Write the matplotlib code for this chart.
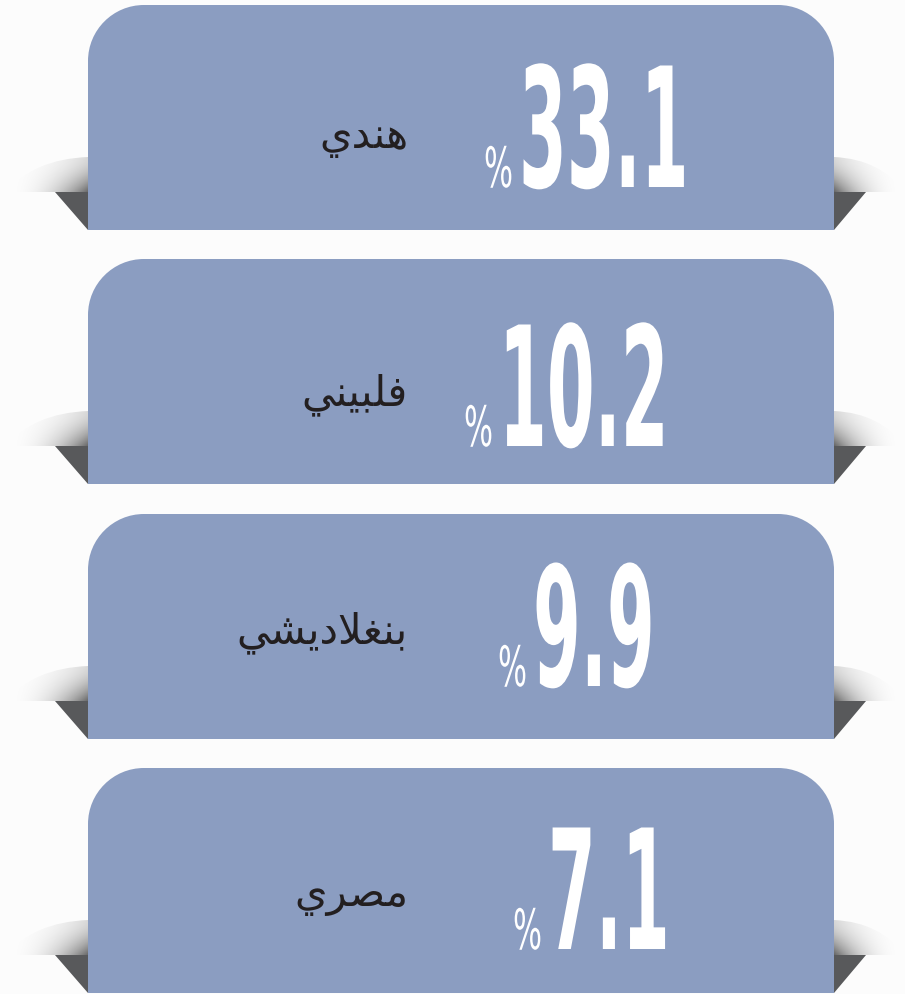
import numpy as np
import matplotlib
matplotlib.use("Agg")
import matplotlib.pyplot as plt
from matplotlib.path import Path
from matplotlib.patches import PathPatch, Polygon
from matplotlib.patheffects import AbstractPathEffect
from matplotlib.transforms import Affine2D

# -------------------------------------------------------------------------- #
# DONNEES
# -------------------------------------------------------------------------- #
nationalites = ["هندي", "فلبيني", "بنغلاديشي", "مصري"]
pourcentages = [33.1, 10.2, 9.9, 7.1]

# mise en page (pixels)
haut_cartes = [6, 260, 515, 769]
base_chiffres = [188, 447, 687, 950]
gauche_chiffres = [519, 499, 533, 548]
base_textes = [148, 405, 643, 906]

BLEU = "#8b9dc1"
GRIS = "#58595b"
FOND = "#fcfcfc"
TEXTE = "#231f20"


# -------------------------------------------------------------------------- #
# MISE EN FORME DU TEXTE ARABE (formes de presentation + ordre visuel)
# -------------------------------------------------------------------------- #
FORMES = {
    "ا": ("\uFE8D", "\uFE8E", None, None),
    "ب": ("\uFE8F", "\uFE90", "\uFE91", "\uFE92"),
    "د": ("\uFEA9", "\uFEAA", None, None),
    "ر": ("\uFEAD", "\uFEAE", None, None),
    "ش": ("\uFEB5", "\uFEB6", "\uFEB7", "\uFEB8"),
    "ص": ("\uFEB9", "\uFEBA", "\uFEBB", "\uFEBC"),
    "غ": ("\uFECD", "\uFECE", "\uFECF", "\uFED0"),
    "ف": ("\uFED1", "\uFED2", "\uFED3", "\uFED4"),
    "ل": ("\uFEDD", "\uFEDE", "\uFEDF", "\uFEE0"),
    "م": ("\uFEE1", "\uFEE2", "\uFEE3", "\uFEE4"),
    "ن": ("\uFEE5", "\uFEE6", "\uFEE7", "\uFEE8"),
    "ه": ("\uFEE9", "\uFEEA", "\uFEEB", "\uFEEC"),
    "ي": ("\uFEF1", "\uFEF2", "\uFEF3", "\uFEF4"),
}


def double(c):  # lettre qui se lie des deux cotes
    return c in FORMES and FORMES[c][2] is not None


def arabe(mot):
    res = []
    i = 0
    while i < len(mot):
        c = mot[i]
        lie_avant = i > 0 and double(mot[i - 1])
        if c == "ل" and i + 1 < len(mot) and mot[i + 1] == "ا":
            res.append("\uFEFC" if lie_avant else "\uFEFB")
            i += 2
            continue
        lie_apres = double(c) and i + 1 < len(mot) and mot[i + 1] in FORMES
        iso, fin, ini, med = FORMES[c]
        if lie_avant and lie_apres:
            res.append(med)
        elif lie_avant:
            res.append(fin)
        elif lie_apres:
            res.append(ini)
        else:
            res.append(iso)
        i += 1
    return "".join(res[::-1])


# police condensee simulee : on etire les glyphes en hauteur (depuis la ligne de base)
class Etirement(AbstractPathEffect):
    def __init__(self, sy):
        super().__init__()
        self.sy = sy

    def draw_path(self, renderer, gc, tpath, affine, rgbFace=None):
        renderer.draw_path(gc, tpath, Affine2D().scale(1, self.sy) + affine, rgbFace)


# -------------------------------------------------------------------------- #
# FORMES
# -------------------------------------------------------------------------- #
def carte(ax, x0, x1, haut, bas, r):
    k = 0.5523 * r
    verts = [(x0, bas), (x0, haut + r),
             (x0, haut + r - k), (x0 + r - k, haut), (x0 + r, haut),
             (x1 - r, haut),
             (x1 - r + k, haut), (x1, haut + r - k), (x1, haut + r),
             (x1, bas), (x0, bas)]
    codes = [Path.MOVETO, Path.LINETO,
             Path.CURVE4, Path.CURVE4, Path.CURVE4,
             Path.LINETO,
             Path.CURVE4, Path.CURVE4, Path.CURVE4,
             Path.LINETO, Path.CLOSEPOLY]
    ax.add_patch(PathPatch(Path(verts, codes), facecolor=BLEU, edgecolor="none", zorder=3))


def ombre(ax, xa, xb, ybas, yhaut, cote):
    # xa : bord colle a la carte, xb : pointe exterieure
    verts = [(xb, ybas), (xb + (xa - xb) * 0.35, yhaut + 2), (xa, yhaut), (xa, ybas), (xb, ybas)]
    codes = [Path.MOVETO, Path.CURVE3, Path.CURVE3, Path.LINETO, Path.CLOSEPOLY]
    patch = PathPatch(Path(verts, codes), facecolor="none", edgecolor="none")
    ax.add_patch(patch)
    nx, ny = 120, 60
    t = np.linspace(0, 1, nx)  # 0 exterieur -> 1 carte
    v = np.linspace(0, 1, ny)[:, None]  # 0 haut -> 1 bas
    alpha = 0.6 * t[None, :] ** 2.5 * (0.25 + 0.75 * v ** 1.8)
    img = np.zeros((ny, nx, 4))
    img[..., 3] = alpha
    if cote == "droite":
        img = img[:, ::-1]
    gauche, droite = min(xa, xb), max(xa, xb)
    im = ax.imshow(img, extent=(gauche, droite, ybas, yhaut), origin="upper",
                   interpolation="bilinear", zorder=1, aspect="auto")
    im.set_clip_path(patch)


# -------------------------------------------------------------------------- #
# FIGURE
# -------------------------------------------------------------------------- #
fig = plt.figure(figsize=(9.05, 9.95), dpi=100, facecolor=FOND)
ax = fig.add_axes([0, 0, 1, 1])
ax.set_xlim(0, 905)
ax.set_ylim(995, 0)
ax.axis("off")

X0, X1 = 88, 834
for i in range(len(pourcentages)):
    haut = haut_cartes[i]
    bas = haut + 225
    pli = bas - 38

    ombre(ax, X0, 5, pli, bas - 73, "gauche")
    ombre(ax, X1, 905, pli, bas - 73, "droite")
    ax.add_patch(Polygon([(X0 - 33, pli), (X0, pli), (X0, bas)], closed=True,
                         facecolor=GRIS, edgecolor="none", zorder=2))
    ax.add_patch(Polygon([(X1 + 32, pli), (X1, pli), (X1, bas)], closed=True,
                         facecolor=GRIS, edgecolor="none", zorder=2))
    carte(ax, X0, X1, haut, bas, 56)

    xg = gauche_chiffres[i]
    ax.text(xg, base_chiffres[i], f"{pourcentages[i]:.1f}", color="white",
            fontsize=49.5, fontweight="bold", family="DejaVu Sans",
            ha="left", va="baseline", zorder=5,
            path_effects=[Etirement(120 / 49.5)])
    ax.text(xg - 35, base_chiffres[i], "%", color="white",
            fontsize=22, family="DejaVu Sans",
            ha="left", va="baseline", zorder=5,
            path_effects=[Etirement(40 / 22)])

    ax.text(408, base_textes[i], arabe(nationalites[i]), color=TEXTE,
            fontsize=30, family="DejaVu Sans", ha="right", va="baseline", zorder=5)

fig.savefig("out.png", dpi=100, facecolor=FOND)
